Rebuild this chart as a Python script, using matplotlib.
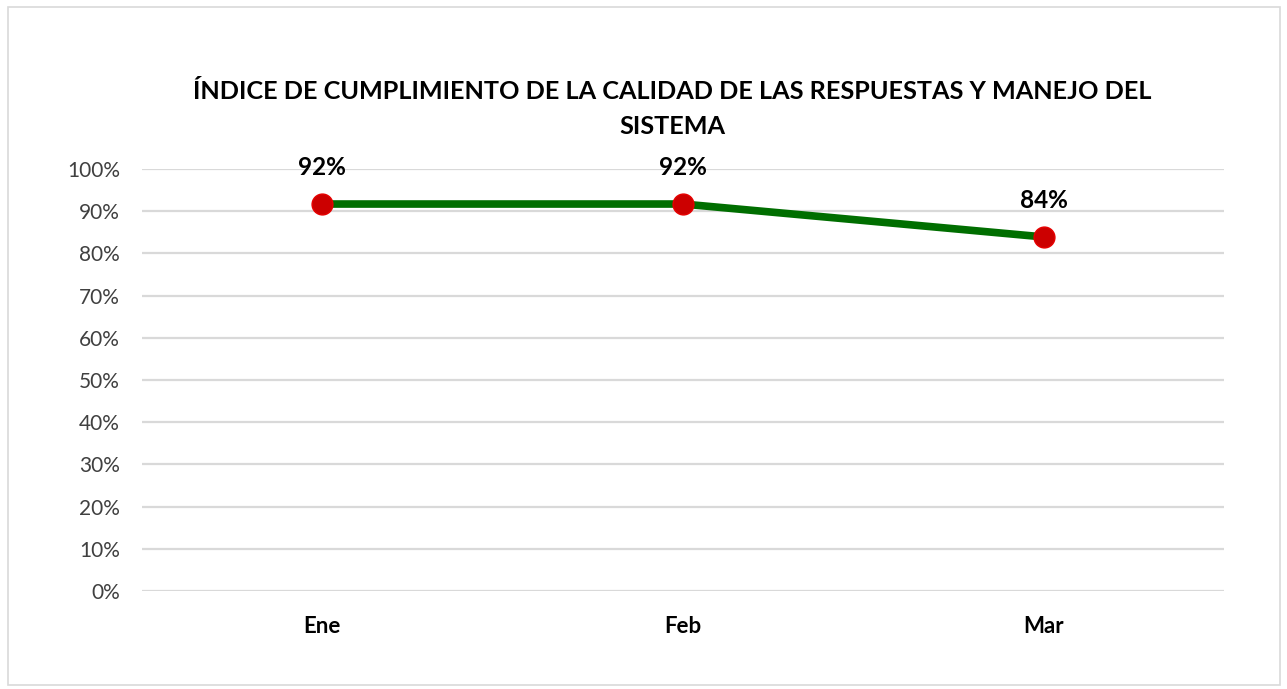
import matplotlib.pyplot as plt
from matplotlib.patches import Rectangle
from matplotlib.ticker import PercentFormatter

months = ["Ene", "Feb", "Mar"]
values = [0.917, 0.917, 0.839]
labels = ["92%", "92%", "84%"]
yticks = [i / 10 for i in range(11)]

plt.rcParams['font.family'] = ['Lato', 'DejaVu Sans']

fig = plt.figure(figsize=(12.87, 6.89), dpi=100)
fig.patches.append(Rectangle((8 / 1287, 4 / 689), 1272 / 1287, 678 / 689,
                             transform=fig.transFigure, fill=False,
                             edgecolor='#d9d9d9', linewidth=1.2))

ax = fig.add_axes([142 / 1287, 1 - 591 / 689, 1082 / 1287, 422 / 689])
x = range(len(months))
ax.plot(x, values, color='#006e00', linewidth=5.5, zorder=3,
        marker='o', markersize=15, markerfacecolor='#cc0000',
        markeredgecolor='#e60000', markeredgewidth=1)

for xi, v, t in zip(x, values, labels):
    ax.annotate(t, (xi, v), xytext=(0, 18), textcoords='offset points',
                ha='center', va='bottom', fontsize=17.5, fontweight='bold')

ax.set_xlim(-0.5, 2.5)
ax.set_ylim(0, 1)
ax.set_yticks(yticks)
ax.yaxis.set_major_formatter(PercentFormatter(1, decimals=0))
ax.set_xticks(list(x))
ax.set_xticklabels(months, fontweight='bold', fontsize=16, color='black')
ax.tick_params(axis='y', labelsize=15, labelcolor='#404040', length=0, pad=16)
ax.tick_params(axis='x', length=0, pad=18)
ax.grid(axis='y', color='#d9d9d9', linewidth=1.6)
for s in ax.spines.values():
    s.set_visible(False)

fig.text(672 / 1287, 1 - 109 / 689,
         "ÍNDICE DE CUMPLIMIENTO DE LA CALIDAD DE LAS RESPUESTAS Y MANEJO DEL\nSISTEMA",
         ha='center', va='center', fontsize=18.2, fontweight='bold',
         linespacing=1.62)

fig.savefig("out.png", dpi=100)
